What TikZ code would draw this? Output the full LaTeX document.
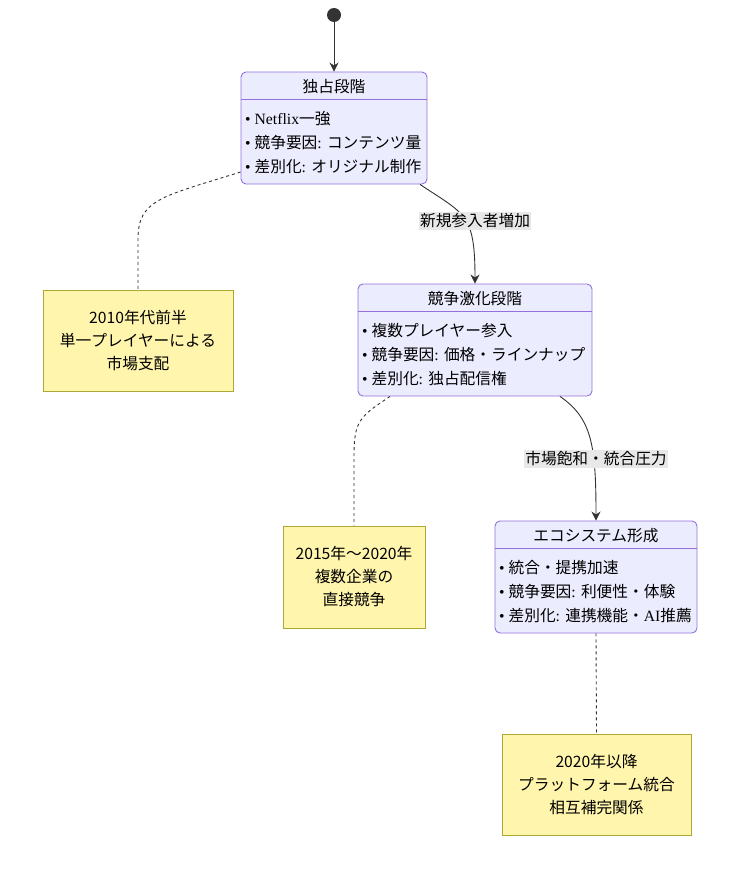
\documentclass[tikz,border=0pt]{standalone}
\usepackage{fontspec}
\setmainfont{Noto Sans CJK JP}
\newfontfamily\serifen{Liberation Serif}
\usetikzlibrary{positioning, calc}
\usetikzlibrary{arrows.meta}
\definecolor{stfill}{HTML}{ECECFF}
\definecolor{stdraw}{HTML}{9370DB}
\definecolor{ntfill}{HTML}{FFF5AD}
\definecolor{ntdraw}{HTML}{AAAA33}
\definecolor{lnclr}{HTML}{333333}
\definecolor{lblbg}{HTML}{E8E8E8}
\newcommand{\rom}[1]{{\serifen #1}}

\begin{document}
\begin{tikzpicture}[x=1pt,y=-1pt,draw=lnclr]
	\tikzstyle{s-box}=[draw=stdraw,fill=stfill,rounded corners=5pt,line width=0.9pt,inner sep=0pt]
	\tikzstyle{s-title}=[font=\fontsize{15.7}{18}\selectfont,inner sep=0pt]
	\tikzstyle{s-body}=[font=\fontsize{15.7}{24}\selectfont,align=left,inner sep=0pt,anchor=north west]
	\tikzstyle{n-box}=[draw=ntdraw,fill=ntfill,line width=0.9pt,align=center,font=\fontsize{15.7}{23}\selectfont]
	\tikzstyle{e-label}=[fill=lblbg,inner sep=1.5pt,font=\fontsize{15.7}{18}\selectfont]
	\tikzstyle{flow}=[-{Stealth[length=9pt,width=9pt]},draw=lnclr,line width=0.9pt]
	\tikzstyle{n-link}=[draw=lnclr,line width=0.9pt,dash pattern=on 3pt off 3pt]
	\useasboundingbox (0,0) rectangle (734,869);

	% start
	\node[circle,fill=lnclr,minimum size=14pt,inner sep=0pt] (start) at (334,15) {};

	% states
	\node[s-box,minimum width=186pt,minimum height=112pt] (s1) at (334,128) {};
	\node[s-title] (s1t) at (334,87) {独占段階};
	\draw[stdraw,line width=0.9pt] ([yshift=-28pt]s1.north west) -- ([yshift=-28pt]s1.north east);
	\node[s-body] (s1b) at (245,111) {\rom{• Netflix}一強\\ \rom{• }競争要因\rom{: }コンテンツ量\\ \rom{• }差別化\rom{: }オリジナル制作};

	\node[s-box,minimum width=234pt,minimum height=112pt] (s2) at (475,340) {};
	\node[s-title] (s2t) at (475,299) {競争激化段階};
	\draw[stdraw,line width=0.9pt] ([yshift=-28pt]s2.north west) -- ([yshift=-28pt]s2.north east);
	\node[s-body] (s2b) at (362,323) {\rom{• }複数プレイヤー参入\\ \rom{• }競争要因\rom{: }価格・ラインナップ\\ \rom{• }差別化\rom{: }独占配信権};

	\node[s-box,minimum width=202pt,minimum height=112pt] (s3) at (596,577) {};
	\node[s-title] (s3t) at (596,536) {エコシステム形成};
	\draw[stdraw,line width=0.9pt] ([yshift=-28pt]s3.north west) -- ([yshift=-28pt]s3.north east);
	\node[s-body] (s3b) at (499,560) {\rom{• }統合・提携加速\\ \rom{• }競争要因\rom{: }利便性・体験\\ \rom{• }差別化\rom{: }連携機能・\rom{AI}推薦};

	% notes
	\node[n-box,minimum width=190pt,minimum height=101pt] (n1) at (138,340.5) {2010年代前半\\単一プレイヤーによる\\市場支配};
	\node[n-box,minimum width=142pt,minimum height=102pt] (n2) at (354,577) {2015年～2020年\\複数企業の\\直接競争};
	\node[n-box,minimum width=189pt,minimum height=101pt] (n3) at (596.5,784.5) {2020年以降\\プラットフォーム統合\\相互補完関係};

	% transitions
	\draw[flow] (start) -- (s1);
	\draw[flow] ([xshift=86pt]s1.south) .. controls +(45,30) and +(0,-70) .. (s2.north)
		node[e-label] (l1) at (475,221) {新規参入者増加};
	\draw[flow] ([xshift=85pt]s2.south) .. controls +(32,22) and +(0,-75) .. (s3.north)
		node[e-label] (l2) at (596,459) {市場飽和・統合圧力};

	% note links
	\draw[n-link] ([yshift=-44pt]s1.west) .. controls +(-80,25) and +(0,-40) .. ([yshift=50pt]n1.north) -- (n1.north);
	\draw[n-link] ([xshift=-85pt]s2.south) .. controls +(-30,20) and +(0,-35) .. ([yshift=70pt]n2.north) -- (n2.north);
	\draw[n-link] (s3.south) -- (n3.north);
\end{tikzpicture}
\end{document}
